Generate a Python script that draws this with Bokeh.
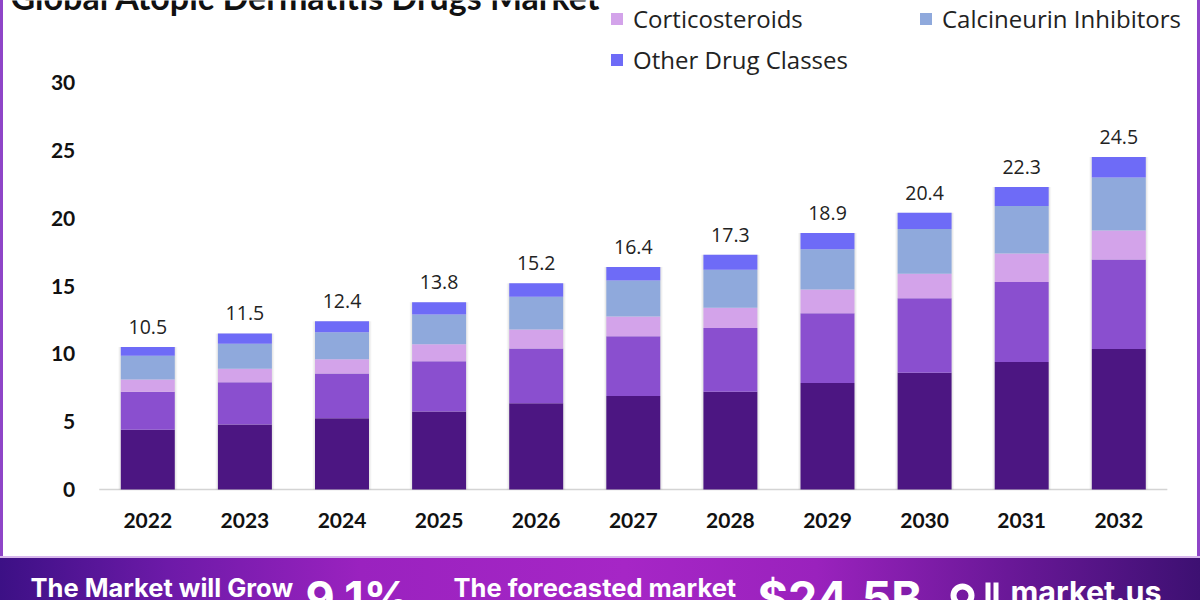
from bokeh.plotting import figure
from bokeh.models import ColumnDataSource, Legend, LegendItem, Label, Range1d, FixedTicker
from bokeh.layouts import column
from bokeh.embed import file_html
from bokeh.resources import INLINE
from bokeh.core.properties import value

# ---------------- data ----------------
years = ["2022", "2023", "2024", "2025", "2026", "2027", "2028", "2029", "2030", "2031", "2032"]
segment_1 = [4.4, 4.8, 5.25, 5.75, 6.35, 6.9, 7.2, 7.85, 8.6, 9.4, 10.35]
segment_2 = [2.8, 3.1, 3.3, 3.7, 4.05, 4.4, 4.7, 5.15, 5.5, 5.9, 6.6]
corticosteroids = [0.9, 1.0, 1.05, 1.25, 1.4, 1.45, 1.5, 1.75, 1.8, 2.1, 2.15]
calcineurin = [1.75, 1.85, 2.0, 2.2, 2.4, 2.65, 2.8, 2.95, 3.3, 3.5, 3.9]
other_classes = [0.65, 0.75, 0.8, 0.9, 1.0, 1.0, 1.1, 1.2, 1.2, 1.4, 1.5]
totals = [10.5, 11.5, 12.4, 13.8, 15.2, 16.4, 17.3, 18.9, 20.4, 22.3, 24.5]
y_ticks = [0, 5, 10, 15, 20, 25, 30]

title_text = "Global Atopic Dermatitis Drugs Market"
legend_labels = {"corticosteroids": "Corticosteroids",
                 "calcineurin": "Calcineurin Inhibitors",
                 "other_classes": "Other Drug Classes"}
banner_texts = ["The Market will Grow", "9.1%", "The forecasted market", "$24.5B", "market.us"]

stack_keys = ["segment_1", "segment_2", "corticosteroids", "calcineurin", "other_classes"]
colors = ["#4C1682", "#8A4FCF", "#D3A3EA", "#8FA9DC", "#6E6BF7"]

x_pos = list(range(len(years)))
source = ColumnDataSource(dict(
    x=x_pos, years=years, segment_1=segment_1, segment_2=segment_2,
    corticosteroids=corticosteroids, calcineurin=calcineurin,
    other_classes=other_classes, totals=totals,
    total_labels=[f"{t}" for t in totals],
))
tick_source = ColumnDataSource(dict(
    y=y_ticks, x=[x_pos[0] - 0.5] * len(y_ticks), label=[str(t) for t in y_ticks]))

W = 1200
H_MAIN, H_BANNER = 556, 44
ZERO_PX = 489                     # pixel row of the value 0
BELOW_ZERO = 14                   # frame continues a little under 0
FRAME_H = ZERO_PX + BELOW_ZERO
BOTTOM = H_MAIN - FRAME_H
PX_PER_UNIT = 407 / 30.0
PX_PER_CAT = 97.1
X0 = 147.3                        # pixel position of the first category
BAR_W = 0.556

# ---------------- chart (with header inside the frame) ----------------
p = figure(width=W, height=H_MAIN, output_backend="svg", toolbar_location=None, title=None,
           x_range=Range1d(-X0 / PX_PER_CAT, (W - X0) / PX_PER_CAT),
           y_range=Range1d(-BELOW_ZERO / PX_PER_UNIT, ZERO_PX / PX_PER_UNIT),
           y_axis_location=None,
           min_border=0, min_border_left=0, min_border_right=0,
           min_border_top=0, min_border_bottom=BOTTOM)
p.background_fill_alpha = 0
p.border_fill_alpha = 0
p.outline_line_color = None
p.grid.grid_line_color = None
p.styles = {"background": "white",
            "box-shadow": "inset 3px 0 0 #8f45c8, inset -3px 0 0 #8f45c8"}

# base line under the bars
p.segment(x0=[x_pos[0] - 0.5], x1=[x_pos[-1] + 0.5], y0=[y_ticks[0]], y1=[y_ticks[0]],
          line_color="#d4d4d4", line_width=1.5)

# soft shadow behind the bars
for extra, alpha in ((0.05, 0.035), (0.028, 0.05)):
    p.vbar(x="x", top="totals", bottom=0, width=BAR_W + extra, source=source,
           fill_color="#000000", fill_alpha=alpha, line_color=None)

renderers = p.vbar_stack(stack_keys, x="x", width=BAR_W, color=colors,
                         line_color=None, source=source)

p.text(x="x", y="totals", text="total_labels", source=source,
       text_align="center", text_baseline="alphabetic", y_offset=-20,
       text_font=value("Open Sans"), text_font_size="19.5px", text_color="#222222")

# y tick labels
p.text(x="x", y="y", text="label", source=tick_source, x_offset=-24,
       text_align="right", text_baseline="middle",
       text_font=value("Lato"), text_font_style="bold", text_font_size="21px",
       text_color="#111111")

# x axis (years)
xa = p.xaxis[0]
xa.ticker = FixedTicker(ticks=x_pos)
xa.major_label_overrides = {i: y for i, y in zip(x_pos, years)}
xa.axis_line_color = None
xa.major_tick_line_color = None
xa.minor_tick_line_color = None
xa.major_label_text_font = "Lato"
xa.major_label_text_font_style = "bold"
xa.major_label_text_font_size = "21px"
xa.major_label_text_color = "#111111"
xa.major_label_standoff = 3

# title (cut off at the top, as in the reference)
p.add_layout(Label(x=10, y=FRAME_H + 4, x_units="screen", y_units="screen", text=title_text,
                   text_font="Lato", text_font_style="bold", text_font_size="34px",
                   text_color="#111111", text_baseline="alphabetic"))

def make_legend(items, loc):
    return Legend(items=items, location=loc, orientation="vertical",
                  padding=0, margin=0, spacing=7, border_line_color=None,
                  background_fill_alpha=0, glyph_width=15, glyph_height=15,
                  label_height=34, label_standoff=9,
                  label_text_font="Open Sans", label_text_font_size="24px",
                  label_text_color="#222222")

p.add_layout(make_legend([LegendItem(label=legend_labels["corticosteroids"], renderers=[renderers[2]]),
                          LegendItem(label=legend_labels["other_classes"], renderers=[renderers[4]])],
                         (609, FRAME_H - 76)))
p.add_layout(make_legend([LegendItem(label=legend_labels["calcineurin"], renderers=[renderers[3]])],
                         (918, FRAME_H - 35)))

# ---------------- banner ----------------
b = figure(width=W, height=H_BANNER, output_backend="svg", toolbar_location=None, title=None,
           x_range=Range1d(0, W), y_range=Range1d(0, H_BANNER),
           x_axis_location=None, y_axis_location=None,
           min_border=0, min_border_left=0, min_border_right=0,
           min_border_top=0, min_border_bottom=0)
b.grid.visible = False
b.outline_line_color = None
b.background_fill_alpha = 0
b.border_fill_alpha = 0
b.styles = {"background": "linear-gradient(90deg, #3c1085 0%, #6d1aa8 14%, #9a22bf 30%, #a626c6 52%, #9a22bd 68%, #6a1898 84%, #3d1072 100%)",
            "box-shadow": "inset 0 2px 0 #d7b6ec"}

def banner_label(x, y, text, size):
    b.add_layout(Label(x=x, y=y, x_units="screen", y_units="screen", text=text,
                       text_font="Inter", text_font_style="bold", text_font_size=size,
                       text_color="white", text_baseline="alphabetic"))

banner_label(30, 13, banner_texts[0], "25.5px")
banner_label(305, 3, banner_texts[1], "45px")
banner_label(453, 13, banner_texts[2], "25.5px")
banner_label(757, 3, banner_texts[3], "46.5px")
banner_label(1010, 9, banner_texts[4], "30.5px")

# logo icon
b.annulus(x=[962], y=[5], inner_radius=6, outer_radius=12, fill_color="white", line_color=None)
b.quad(left=[985, 993], right=[990, 998], bottom=[0, 0], top=[18, 18],
       fill_color="white", line_color=None)

layout = column(p, b, spacing=0)
open("out.html", "w").write(file_html(layout, INLINE))
